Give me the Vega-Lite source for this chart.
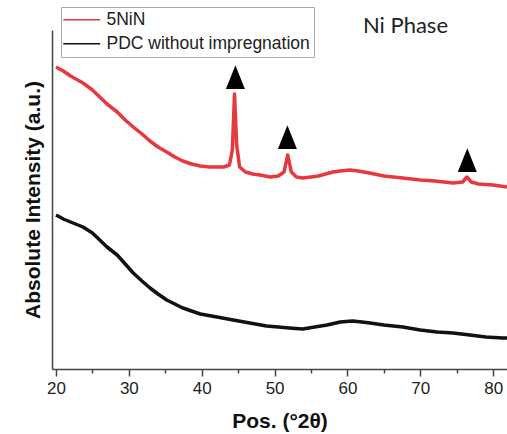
{
  "$schema": "https://vega.github.io/schema/vega-lite/v6.json",
  "width": 455,
  "height": 339,
  "autosize": {"type": "none"},
  "padding": {"left": 52, "top": 30, "right": 0, "bottom": 65},
  "background": "white",
  "config": {"view": {"stroke": null}, "font": "Liberation Sans"},
  "title": {
    "text": "Ni Phase",
    "anchor": "end",
    "frame": "group",
    "font": "Lato",
    "fontSize": 22,
    "fontWeight": "normal",
    "color": "#222222",
    "baseline": "alphabetic",
    "dx": -59,
    "dy": 48,
    "offset": 0
  },
  "datasets": {
    "xrd": [
      {"angle": 20, "intensity": 302, "series": "5NiN"},
      {"angle": 21, "intensity": 298, "series": "5NiN"},
      {"angle": 22, "intensity": 293, "series": "5NiN"},
      {"angle": 23.7, "intensity": 286, "series": "5NiN"},
      {"angle": 25, "intensity": 279, "series": "5NiN"},
      {"angle": 26, "intensity": 272, "series": "5NiN"},
      {"angle": 27, "intensity": 265, "series": "5NiN"},
      {"angle": 28.4, "intensity": 257, "series": "5NiN"},
      {"angle": 29.5, "intensity": 249, "series": "5NiN"},
      {"angle": 30.6, "intensity": 242, "series": "5NiN"},
      {"angle": 31.8, "intensity": 235, "series": "5NiN"},
      {"angle": 32.9, "intensity": 228, "series": "5NiN"},
      {"angle": 34, "intensity": 222, "series": "5NiN"},
      {"angle": 35.2, "intensity": 217, "series": "5NiN"},
      {"angle": 36.3, "intensity": 212, "series": "5NiN"},
      {"angle": 37.4, "intensity": 208, "series": "5NiN"},
      {"angle": 38.6, "intensity": 205, "series": "5NiN"},
      {"angle": 39.8, "intensity": 203, "series": "5NiN"},
      {"angle": 41.1, "intensity": 202, "series": "5NiN"},
      {"angle": 42, "intensity": 202, "series": "5NiN"},
      {"angle": 43, "intensity": 202, "series": "5NiN"},
      {"angle": 43.8, "intensity": 204, "series": "5NiN"},
      {"angle": 44.2, "intensity": 219, "series": "5NiN"},
      {"angle": 44.5, "intensity": 275, "series": "5NiN"},
      {"angle": 44.8, "intensity": 224, "series": "5NiN"},
      {"angle": 45.2, "intensity": 202, "series": "5NiN"},
      {"angle": 46, "intensity": 197, "series": "5NiN"},
      {"angle": 47, "intensity": 195, "series": "5NiN"},
      {"angle": 48, "intensity": 194, "series": "5NiN"},
      {"angle": 49.4, "intensity": 192, "series": "5NiN"},
      {"angle": 50.5, "intensity": 193, "series": "5NiN"},
      {"angle": 51.3, "intensity": 197, "series": "5NiN"},
      {"angle": 51.8, "intensity": 214, "series": "5NiN"},
      {"angle": 52.3, "intensity": 197, "series": "5NiN"},
      {"angle": 53, "intensity": 192, "series": "5NiN"},
      {"angle": 53.9, "intensity": 191, "series": "5NiN"},
      {"angle": 55, "intensity": 192, "series": "5NiN"},
      {"angle": 56, "intensity": 193, "series": "5NiN"},
      {"angle": 57, "intensity": 195, "series": "5NiN"},
      {"angle": 58, "intensity": 197, "series": "5NiN"},
      {"angle": 59, "intensity": 198, "series": "5NiN"},
      {"angle": 60.3, "intensity": 199, "series": "5NiN"},
      {"angle": 61.5, "intensity": 198, "series": "5NiN"},
      {"angle": 63, "intensity": 196, "series": "5NiN"},
      {"angle": 65, "intensity": 193, "series": "5NiN"},
      {"angle": 67.6, "intensity": 191, "series": "5NiN"},
      {"angle": 70, "intensity": 189, "series": "5NiN"},
      {"angle": 72, "intensity": 188, "series": "5NiN"},
      {"angle": 74.5, "intensity": 186, "series": "5NiN"},
      {"angle": 75.8, "intensity": 187, "series": "5NiN"},
      {"angle": 76.4, "intensity": 192, "series": "5NiN"},
      {"angle": 77, "intensity": 187, "series": "5NiN"},
      {"angle": 78, "intensity": 185, "series": "5NiN"},
      {"angle": 80, "intensity": 184, "series": "5NiN"},
      {"angle": 81.9, "intensity": 182, "series": "5NiN"},
      {"angle": 20, "intensity": 154, "series": "PDC without impregnation"},
      {"angle": 21, "intensity": 150, "series": "PDC without impregnation"},
      {"angle": 22, "intensity": 147, "series": "PDC without impregnation"},
      {"angle": 23.7, "intensity": 142, "series": "PDC without impregnation"},
      {"angle": 25, "intensity": 136, "series": "PDC without impregnation"},
      {"angle": 26, "intensity": 129, "series": "PDC without impregnation"},
      {"angle": 27, "intensity": 122, "series": "PDC without impregnation"},
      {"angle": 28.4, "intensity": 114, "series": "PDC without impregnation"},
      {"angle": 29.5, "intensity": 105, "series": "PDC without impregnation"},
      {"angle": 30.6, "intensity": 96, "series": "PDC without impregnation"},
      {"angle": 31.8, "intensity": 88, "series": "PDC without impregnation"},
      {"angle": 32.9, "intensity": 81, "series": "PDC without impregnation"},
      {"angle": 34, "intensity": 75, "series": "PDC without impregnation"},
      {"angle": 35.2, "intensity": 69, "series": "PDC without impregnation"},
      {"angle": 36.3, "intensity": 65, "series": "PDC without impregnation"},
      {"angle": 37.4, "intensity": 61, "series": "PDC without impregnation"},
      {"angle": 38.6, "intensity": 58, "series": "PDC without impregnation"},
      {"angle": 39.8, "intensity": 55, "series": "PDC without impregnation"},
      {"angle": 42.1, "intensity": 52, "series": "PDC without impregnation"},
      {"angle": 44.3, "intensity": 49, "series": "PDC without impregnation"},
      {"angle": 46.6, "intensity": 46, "series": "PDC without impregnation"},
      {"angle": 48.9, "intensity": 43, "series": "PDC without impregnation"},
      {"angle": 50.5, "intensity": 42, "series": "PDC without impregnation"},
      {"angle": 52, "intensity": 41, "series": "PDC without impregnation"},
      {"angle": 53.9, "intensity": 40, "series": "PDC without impregnation"},
      {"angle": 55.5, "intensity": 42, "series": "PDC without impregnation"},
      {"angle": 57.2, "intensity": 44, "series": "PDC without impregnation"},
      {"angle": 59, "intensity": 47, "series": "PDC without impregnation"},
      {"angle": 60.7, "intensity": 48, "series": "PDC without impregnation"},
      {"angle": 62, "intensity": 47, "series": "PDC without impregnation"},
      {"angle": 63.1, "intensity": 46, "series": "PDC without impregnation"},
      {"angle": 65, "intensity": 44, "series": "PDC without impregnation"},
      {"angle": 67.6, "intensity": 42, "series": "PDC without impregnation"},
      {"angle": 70, "intensity": 39, "series": "PDC without impregnation"},
      {"angle": 72.3, "intensity": 37, "series": "PDC without impregnation"},
      {"angle": 74.5, "intensity": 36, "series": "PDC without impregnation"},
      {"angle": 76.8, "intensity": 34, "series": "PDC without impregnation"},
      {"angle": 79, "intensity": 32, "series": "PDC without impregnation"},
      {"angle": 81.3, "intensity": 31, "series": "PDC without impregnation"},
      {"angle": 81.9, "intensity": 31, "series": "PDC without impregnation"}
    ],
    "peaks": [
      {"angle": 44.62, "intensity": 292},
      {"angle": 51.76, "intensity": 232},
      {"angle": 76.45, "intensity": 209}
    ]
  },
  "encoding": {
    "y": {
      "field": "intensity",
      "type": "quantitative",
      "scale": {"domain": [0, 339], "nice": false, "zero": false},
      "axis": {
        "title": "Absolute Intensity (a.u.)",
        "ticks": false,
        "labels": false,
        "grid": false,
        "domainColor": "#444",
        "domainWidth": 1.5,
        "titleFontSize": 21,
        "titleFontWeight": "bold",
        "titleColor": "#111",
        "titlePadding": 9
      }
    }
  },
  "layer": [
    {
      "data": {"name": "xrd"},
      "mark": {"type": "line", "strokeWidth": 3.5, "strokeJoin": "round"},
      "encoding": {
        "x": {
          "field": "angle",
          "type": "quantitative",
          "scale": {"domain": [19.45, 81.9], "nice": false, "zero": false},
          "axis": {
            "orient": "bottom",
            "values": [20, 30, 40, 50, 60, 70, 80],
            "title": "Pos. (°2θ)",
            "grid": false,
            "domainColor": "#444",
            "domainWidth": 1.5,
            "tickColor": "#444",
            "tickWidth": 1.5,
            "tickSize": 7,
            "labelFontSize": 17,
            "labelColor": "#222",
            "labelPadding": 4,
            "labelFlush": false,
            "titleFontSize": 21,
            "titleFontWeight": "bold",
            "titleColor": "#111",
            "titlePadding": 14
          }
        },
        "color": {
          "field": "series",
          "type": "nominal",
          "scale": {"domain": ["5NiN", "PDC without impregnation"], "range": ["#e8383f", "#111111"]},
          "legend": {
            "title": null,
            "orient": "none",
            "legendX": 9,
            "legendY": -23,
            "symbolType": "M-3,0H3",
            "symbolSize": 152,
            "symbolStrokeWidth": 1.5,
            "symbolOffset": 8,
            "labelOffset": 16,
            "labelFontSize": 17.5,
            "labelFont": "Liberation Sans",
            "labelColor": "#222",
            "labelLimit": 0,
            "padding": 4,
            "rowPadding": 5,
            "strokeColor": "#aaaaaa",
            "fillColor": "white"
          }
        }
      }
    },
    {
      "data": {"name": "peaks"},
      "mark": {"type": "point", "shape": "M0,-1.25L-1,1.25L1,1.25Z", "size": 361, "filled": true, "color": "#000000", "opacity": 1},
      "encoding": {
        "x": {
          "field": "angle",
          "type": "quantitative",
          "axis": {
            "orient": "bottom",
            "values": [25, 35, 45, 55, 65, 75],
            "labels": false,
            "domain": false,
            "grid": false,
            "title": null,
            "tickColor": "#444",
            "tickWidth": 1.5,
            "tickSize": 4
          }
        }
      }
    }
  ],
  "resolve": {"axis": {"x": "independent"}}
}
